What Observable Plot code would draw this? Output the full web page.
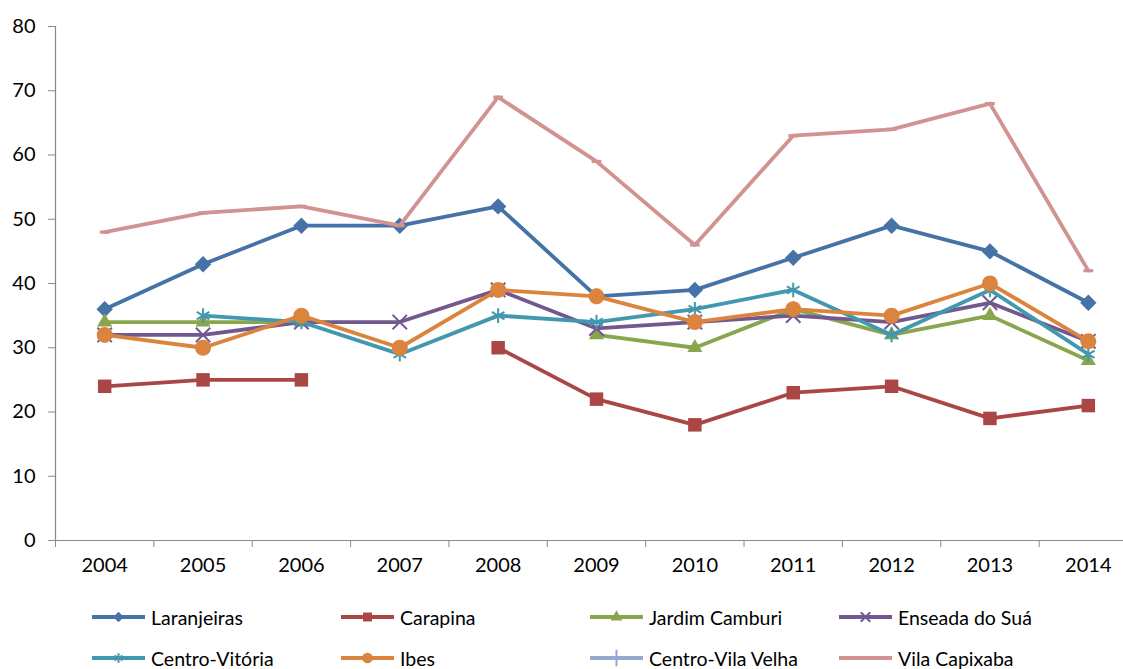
<!DOCTYPE html>
<html><head><meta charset="utf-8">
<script src="https://cdn.jsdelivr.net/npm/d3@7"></script>
<script src="https://cdn.jsdelivr.net/npm/@observablehq/plot@0.6"></script>
<style>
body{margin:0;background:#fff;font-family:Lato,sans-serif;}
#wrap{position:relative;width:1123px;height:669px;overflow:hidden;background:#fff}
#wrap svg.plot{position:absolute;left:0;top:0}
.leg{position:absolute;display:flex;align-items:center;font-size:19.5px;color:#000;white-space:nowrap;height:30px}
.leg svg{margin-right:5px}
</style></head><body><div id="wrap"></div>
<script>
const years = [2004, 2005, 2006, 2007, 2008, 2009, 2010, 2011, 2012, 2013, 2014];
const yTicks = [0, 10, 20, 30, 40, 50, 60, 70, 80];
const seriesNames = ["Laranjeiras", "Carapina", "Jardim Camburi", "Enseada do Suá", "Centro-Vitória", "Ibes", "Centro-Vila Velha", "Vila Capixaba"];
const laranjeiras    = [36, 43, 49, 49, 52, 38, 39, 44, 49, 45, 37];
const carapina       = [24, 25, 25, null, 30, 22, 18, 23, 24, 19, 21];
const jardimCamburi  = [34, 34, 34, null, null, 32, 30, 36, 32, 35, 28];
const enseadaDoSua   = [32, 32, 34, 34, 39, 33, 34, 35, 34, 37, 31];
const centroVitoria  = [null, 35, 34, 29, 35, 34, 36, 39, 32, 39, 29];
const ibes           = [32, 30, 35, 30, 39, 38, 34, 36, 35, 40, 31];
const centroVilaVelha= [null, null, null, null, null, null, null, null, null, null, null];
const vilaCapixaba   = [48, 51, 52, 49, 69, 59, 46, 63, 64, 68, 42];
const seriesValues = [laranjeiras, carapina, jardimCamburi, enseadaDoSua, centroVitoria, ibes, centroVilaVelha, vilaCapixaba];
const colors = ["#4572A7", "#AA4643", "#89A54E", "#71588F", "#4198AF", "#DB843D", "#93A9CF", "#D19392"];

const dash = {draw(ctx, size){ const w = Math.sqrt(size)/2; ctx.rect(-w, -1.6, 2*w, 3.2); }};
const markerDefs = [
  {symbol:"diamond2", r:7.4, filled:true},
  {symbol:"square", r:7.6, filled:true},
  {symbol:"triangle", r:5.6, filled:true},
  {symbol:"times", r:6.6, filled:false},
  {symbol:"asterisk", r:6.9, filled:false},
  {symbol:"circle", r:8, filled:true},
  {symbol:"plus", r:6, filled:false},
  {symbol:dash, r:5.5, filled:true}
];

const marks = [];
const grey = "#898989";
marks.push(Plot.ruleY([0], {x1: 2003.5, x2: 2014.5, stroke: grey, strokeWidth: 1.2}));
marks.push(Plot.ruleX([2003.5], {y1: 0, y2: 80, stroke: grey, strokeWidth: 1.2}));
marks.push(Plot.axisY({ticks: yTicks, tickSize: 7, tickPadding: 13, stroke: grey, fill: "#000", fontSize: 20, tickFormat: d => String(d)}));
marks.push(Plot.axisX({ticks: d3.range(2003.5, 2015, 1), tickSize: 7, stroke: grey, tickFormat: () => ""}));
marks.push(Plot.axisX({ticks: years, tickSize: 0, tickPadding: 17, fill: "#000", fontSize: 20, tickFormat: d => String(d)}));

seriesNames.forEach((name, s) => {
  const data = years.map((yr, i) => ({year: yr, v: seriesValues[s][i], name}));
  const c = colors[s];
  marks.push(Plot.lineY(data, {x: "year", y: "v", stroke: c, strokeWidth: 3.8, strokeLinejoin: "round", curve: "linear"}));
  const m = markerDefs[s];
  const pts = data.filter(d => d.v != null);
  if (m.filled) marks.push(Plot.dot(pts, {x: "year", y: "v", symbol: () => m.symbol, r: m.r, fill: c, stroke: "none"}));
  else marks.push(Plot.dot(pts, {x: "year", y: "v", symbol: () => m.symbol, r: m.r, stroke: c, strokeWidth: 2, fill: "none"}));
});

const chart = Plot.plot({
  width: 1123,
  height: 590,
  marginLeft: 55, marginRight: 0, marginTop: 26, marginBottom: 50,
  style: {fontFamily: "Lato, sans-serif", fontSize: "20px", color: "#000", background: "#fff", overflow: "visible"},
  x: {type: "linear", domain: [2003.5, 2014.5], range: [55, 1137], label: null},
  y: {type: "linear", domain: [0, 80], range: [540, 26], label: null},
  symbol: {type: "identity"},
  marks
});
chart.classList.add("plot");
const wrap = document.getElementById("wrap");
wrap.appendChild(chart);

// Legend
const legCols = [92, 341, 590, 839];
const legRows = [617, 658];
const legSymbols = [d3.symbolDiamond2, d3.symbolSquare, d3.symbolTriangle, d3.symbolTimes, d3.symbolAsterisk, d3.symbolCircle, d3.symbolPlus, dash];
const legSizes = [70, 80, 60, 60, 60, 90, 90, 60];
seriesNames.forEach((name, s) => {
  const div = document.createElement("div");
  div.className = "leg";
  div.style.left = legCols[s % 4] + "px";
  div.style.top = (legRows[Math.floor(s / 4)] - 15) + "px";
  const sv = d3.create("svg").attr("width", 54).attr("height", 20);
  sv.append("line").attr("x1", 0).attr("x2", 53).attr("y1", 10).attr("y2", 10).attr("stroke", colors[s]).attr("stroke-width", 4);
  const filled = markerDefs[s].filled;
  sv.append("path").attr("transform", "translate(26.5,10)")
    .attr("d", d3.symbol(legSymbols[s], legSizes[s])())
    .attr("fill", filled ? colors[s] : "none").attr("stroke", filled ? "none" : colors[s]).attr("stroke-width", 2);
  div.appendChild(sv.node());
  const span = document.createElement("span");
  span.textContent = name;
  div.appendChild(span);
  wrap.appendChild(div);
});
</script></body></html>
